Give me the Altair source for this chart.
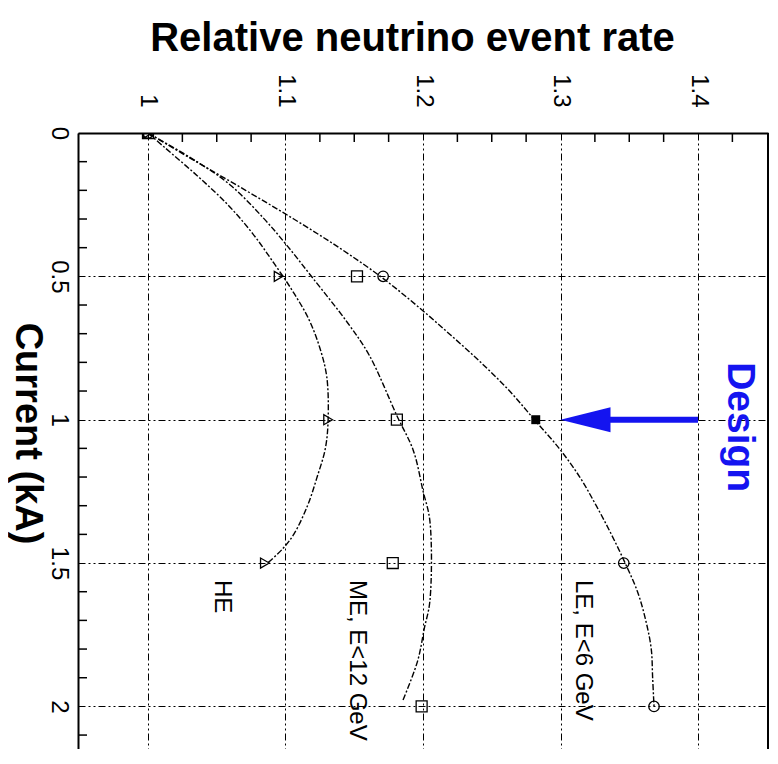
import altair as alt
import pandas as pd

# ---------------- data ----------------
# smooth curves (rate, current)
le_curve_rate = [1.000, 1.035, 1.071, 1.106, 1.139, 1.169, 1.195, 1.219, 1.242, 1.263, 1.281, 1.299, 1.314, 1.326, 1.337, 1.347, 1.356, 1.362, 1.366, 1.367, 1.368]
le_curve_current = [0.0, 0.1, 0.2, 0.3, 0.4, 0.5, 0.6, 0.7, 0.8, 0.9, 1.0, 1.1, 1.2, 1.3, 1.4, 1.5, 1.6, 1.7, 1.8, 1.9, 2.0]

me_curve_rate = [1.000, 1.036, 1.060, 1.084, 1.101, 1.120, 1.145, 1.161, 1.181, 1.193, 1.200, 1.205, 1.205, 1.201, 1.196, 1.185]
me_curve_current = [0.000, 0.101, 0.182, 0.297, 0.392, 0.507, 0.661, 0.776, 0.986, 1.108, 1.248, 1.353, 1.633, 1.727, 1.843, 1.983]

he_curve_rate = [1.000, 1.012, 1.036, 1.058, 1.076, 1.091, 1.105, 1.117, 1.125, 1.130, 1.131, 1.129, 1.123, 1.116, 1.106, 1.098, 1.087]
he_curve_current = [0.000, 0.050, 0.150, 0.250, 0.350, 0.450, 0.550, 0.650, 0.750, 0.850, 1.000, 1.100, 1.200, 1.300, 1.400, 1.450, 1.500]

# simulated points
le_pts_rate = [1.000, 1.171, 1.346, 1.368]
le_pts_current = [0.0, 0.5, 1.5, 2.0]
me_pts_rate = [1.000, 1.152, 1.181, 1.178, 1.199]
me_pts_current = [0.0, 0.5, 1.0, 1.5, 2.0]
he_pts_rate = [1.000, 1.095, 1.131, 1.085]
he_pts_current = [0.0, 0.5, 1.0, 1.5]
design_pt_rate = [1.282]
design_pt_current = [1.0]

# curve labels
label_text = ["HE", "ME, E<12 GeV", "LE, E<6 GeV"]
label_rate = [1.049, 1.147, 1.311]
label_current = [1.559, 1.559, 1.559]

# design arrow and label
arrow_from = [1.40]
arrow_shaft_end = [1.33]
arrow_tip = [1.30]
arrow_current = [1.0]
design_text = ["Design"]
design_text_rate = [1.422]
design_text_current = [1.026]

# axes
x_major = [1.0, 1.1, 1.2, 1.3, 1.4]
y_major = [0.0, 0.5, 1.0, 1.5, 2.0]
x_minor = [1.025, 1.05, 1.075, 1.125, 1.15, 1.175, 1.225, 1.25, 1.275,
           1.325, 1.35, 1.375, 1.425]
y_minor = [0.1, 0.2, 0.3, 0.4, 0.6, 0.7, 0.8, 0.9, 1.1, 1.2, 1.3, 1.4,
           1.6, 1.7, 1.8, 1.9, 2.1]
X_DOM = [0.9491, 1.4509]
Y_DOM = [0.0, 2.1486]

# ---------------- layout / style ----------------
W, H = 690, 616
FONT = "Liberation Sans"
BLUE = "#1414f0"
GRID_DASH = [7, 3, 2, 3, 2, 3]

x_scale = alt.Scale(domain=X_DOM, nice=False, zero=False)
y_scale = alt.Scale(domain=Y_DOM, nice=False, zero=False, reverse=True)

x_axis = alt.Axis(
    orient="top", values=x_major, format="~g",
    title="Relative neutrino event rate", titleFont=FONT, titleFontSize=40,
    titleFontWeight="bold", titleColor="black", titleX=334, titleY=-83,
    titleAlign="center", titleBaseline="alphabetic", titleAngle=0,
    labelAngle=90, labelAlign="right", labelBaseline="middle", labelPadding=26,
    labelFont=FONT, labelFontSize=24, labelColor="black",
    labelOverlap=False, labelFlush=False,
    ticks=False, tickSize=0,
    domain=True, domainColor="black", domainWidth=2,
    grid=True, gridColor="black", gridDash=GRID_DASH, gridWidth=1, gridOpacity=1,
)
y_axis = alt.Axis(
    orient="left", values=y_major, format="~g",
    title="Current (kA)", titleFont=FONT, titleFontSize=38,
    titleFontWeight="bold", titleColor="black", titleX=-63, titleY=300,
    titleAlign="center", titleBaseline="alphabetic", titleAngle=90,
    labelAngle=90, labelAlign="center", labelBaseline="top", labelPadding=8,
    labelFont=FONT, labelFontSize=24, labelColor="black",
    labelOverlap=False, labelFlush=False,
    ticks=False, tickSize=0,
    domain=True, domainColor="black", domainWidth=2,
    grid=True, gridColor="black", gridDash=GRID_DASH, gridWidth=1, gridOpacity=1,
)


def X(field="rate"):
    return alt.X(f"{field}:Q", scale=x_scale, axis=x_axis)


def Y(field="current"):
    return alt.Y(f"{field}:Q", scale=y_scale, axis=y_axis)


# ---------------- tables ----------------
def curve_df(name, r, c):
    return pd.DataFrame({"series": name, "rate": r, "current": c, "idx": range(len(r))})


curves = pd.concat([
    curve_df("LE", le_curve_rate, le_curve_current),
    curve_df("ME", me_curve_rate, me_curve_current),
    curve_df("HE", he_curve_rate, he_curve_current),
])

le_pts = pd.DataFrame({"rate": le_pts_rate, "current": le_pts_current})
me_pts = pd.DataFrame({"rate": me_pts_rate, "current": me_pts_current})
he_pts = pd.DataFrame({"rate": he_pts_rate, "current": he_pts_current})
design_pt = pd.DataFrame({"rate": design_pt_rate, "current": design_pt_current})
labels = pd.DataFrame({"rate": label_rate, "current": label_current, "text": label_text})
arrow = pd.DataFrame({"rate": arrow_from, "rate2": arrow_shaft_end,
                      "tip": arrow_tip, "current": arrow_current})
design_lab = pd.DataFrame({"rate": design_text_rate, "current": design_text_current,
                           "text": design_text})
xt = pd.DataFrame({"rate": x_minor})
yt = pd.DataFrame({"current": y_minor})
right_edge = pd.DataFrame({"rate": [X_DOM[1]]})

# ---------------- layers ----------------
top_ticks = alt.Chart(xt).mark_rule(color="black", strokeWidth=1.5).encode(
    x=X(), y=alt.value(0), y2=alt.value(9))
left_ticks = alt.Chart(yt).mark_rule(color="black", strokeWidth=1.5).encode(
    y=Y(), x=alt.value(0), x2=alt.value(9))
border = alt.Chart(right_edge).mark_rule(color="black", strokeWidth=2).encode(
    x=X(), y=alt.value(0), y2=alt.value(H))

lines = alt.Chart(curves).mark_line(
    color="black", strokeWidth=1.4, strokeDash=[6, 2, 2, 2],
    interpolate="catmull-rom", clip=True,
).encode(x=X(), y=Y(), detail="series:N", order="idx:Q")

le_mk = alt.Chart(le_pts).mark_point(shape="circle", size=110, color="black",
                                     filled=False, strokeWidth=1.3, opacity=1, clip=True
                                     ).encode(x=X(), y=Y())
me_mk = alt.Chart(me_pts).mark_point(shape="square", size=120, color="black",
                                     filled=False, strokeWidth=1.3, opacity=1, clip=True
                                     ).encode(x=X(), y=Y())
he_mk = alt.Chart(he_pts).mark_point(shape="triangle-right", size=100, color="black",
                                     filled=False, strokeWidth=1.3, opacity=1, clip=True
                                     ).encode(x=X(), y=Y())
design_mk = alt.Chart(design_pt).mark_point(shape="square", size=80, color="black",
                                            filled=True, opacity=1).encode(x=X(), y=Y())

curve_labels = alt.Chart(labels).mark_text(
    angle=90, align="left", baseline="alphabetic", font=FONT, fontSize=24, color="black"
).encode(x=X(), y=Y(), text="text:N")

shaft = alt.Chart(arrow).mark_rule(color=BLUE, strokeWidth=6).encode(
    x=X(), x2="rate2:Q", y=Y())
head = alt.Chart(arrow).mark_point(
    shape="M0,0L2,-0.5L2,0.5Z", size=2500, filled=True, color=BLUE,
    opacity=1, strokeWidth=0).encode(x=X("tip"), y=Y())

design_label = alt.Chart(design_lab).mark_text(
    angle=90, align="center", baseline="alphabetic", font=FONT, fontSize=39,
    fontWeight="bold", color=BLUE).encode(x=X(), y=Y(), text="text:N")

chart = alt.layer(
    top_ticks, left_ticks, border, lines, le_mk, me_mk, he_mk, design_mk,
    curve_labels, shaft, head, design_label,
).properties(
    width=W, height=H,
    autosize=alt.AutoSizeParams(type="none"),
    padding={"left": 70, "top": 125, "right": 2, "bottom": 0},
    background="white",
).configure_view(stroke=None)

chart.save("out.html", embed_options={"renderer": "svg", "actions": False})
